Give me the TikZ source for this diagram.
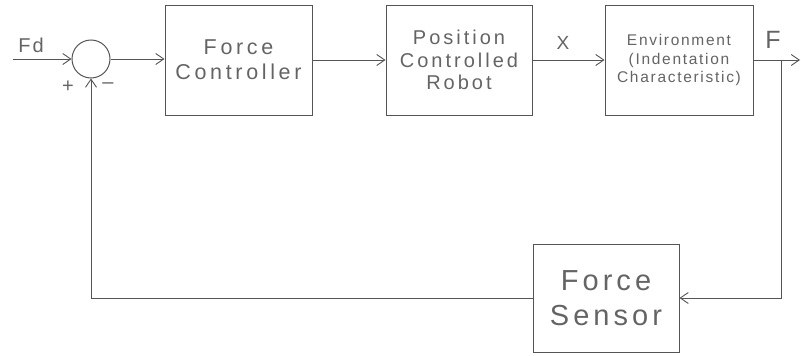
\documentclass[tikz,border=0pt]{standalone}
\usepackage{fontspec}
\setmainfont{Liberation Sans}
\usetikzlibrary{arrows.meta}
\definecolor{ink}{RGB}{85,85,85}
\definecolor{txt}{RGB}{100,100,100}
\begin{document}
\begin{tikzpicture}[x=1pt,y=-1pt,
  block/.style={draw=ink, line width=1pt, inner sep=0pt, align=center, text=txt},
  wire/.style={draw=ink, line width=1pt},
  barb/.style={-{Straight Barb[length=8pt,width=11pt,line width=0.9pt]}},
  lbl/.style={text=txt, inner sep=0pt},
  bigtxt/.style={font=\fontsize{21.5}{25}\selectfont\addfontfeatures{LetterSpace=17}},
  midtxt/.style={font=\fontsize{20}{22.5}\selectfont\addfontfeatures{LetterSpace=15}},
  smalltxt/.style={font=\fontsize{15.5}{18.5}\selectfont\addfontfeatures{LetterSpace=11}},
  hugetxt/.style={font=\fontsize{29}{35}\selectfont\addfontfeatures{LetterSpace=14}}]
\useasboundingbox (0,0) rectangle (801,356);

% summing junction
\node[draw=ink, line width=1pt, circle, minimum size=38pt, inner sep=0pt] (sum) at (91,59) {};

% forward path blocks
\node[block, bigtxt, minimum width=147pt, minimum height=110pt] (fc) at (238.5,60) {Force\\Controller};
\node[block, midtxt, minimum width=146pt, minimum height=110pt] (pcr) at (459,60) {Position\\Controlled\\Robot};
\node[block, smalltxt, minimum width=148pt, minimum height=110pt] (env) at (679,60) {Environment\\(Indentation\\Characteristic)};

% feedback block
\node[block, hugetxt, minimum width=146pt, minimum height=108pt] (fs) at (606,298) {Force\\Sensor};

% free ends and corners
\coordinate (in) at (13,59);
\coordinate (out) at (800,60);
\coordinate (tap) at (781,60);
\coordinate (tapdown) at (781,298);
\coordinate (fbcorner) at (91,298);

% connectors
\draw[wire, barb] (in) -- (sum.west);
\draw[wire, barb] (sum.east) -- (fc.west |- sum.east);
\draw[wire, barb] (fc.east) -- (pcr.west);
\draw[wire, barb] (pcr.east) -- (env.west);
\draw[wire, barb] (env.east) -- (out);
\draw[wire, barb] (tap) -- (tapdown) -- (fs.east);
\draw[wire, barb] (fs.west) -- (fbcorner) -- (sum.south);

% signal labels
\node[lbl, font=\fontsize{20}{22}\selectfont\addfontfeatures{LetterSpace=10}] (fd) at (31,45) {Fd};
\node[lbl, font=\fontsize{19}{22}\selectfont] (xl) at (563,43) {X};
\node[lbl, font=\fontsize{25}{28}\selectfont] (fl) at (773,40) {F};
\node[lbl, font=\fontsize{20}{22}\selectfont] (plus) at (68,87) {+};
\node[lbl, font=\fontsize{20}{22}\selectfont] (minus) at (108,86) {\textendash};
\end{tikzpicture}
\end{document}
